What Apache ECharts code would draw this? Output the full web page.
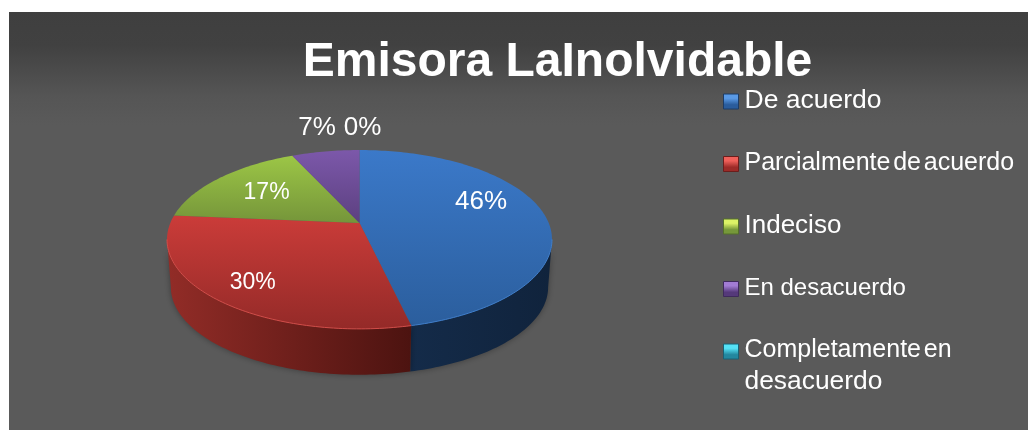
<!DOCTYPE html>
<html><head><meta charset="utf-8">
<style>html,body{margin:0;padding:0;background:#fff}#c{width:1028px;height:430px}</style>
<script src="https://cdn.jsdelivr.net/npm/echarts@6/dist/echarts.min.js"></script>
</head><body><div id="c"></div>
<script>
const titleText = 'Emisora LaInolvidable';
const categories = ['De acuerdo','Parcialmente de acuerdo','Indeciso','En desacuerdo','Completamente en desacuerdo'];
const values = [46.4, 30, 16.8, 6.8, 0];
const topColors = [['#3b79c9','#2b5e9d'],['#cb3c39','#942a28'],['#9cc646','#75953a'],['#7c58aa','#5c4080'],['#3fb4cf','#2a8aa3']];
const sideColors = [['#142b49','#10233c'],['#922c27','#4c1310'],['#5d7a2a','#4c6322'],['#4a3266','#3b2852'],['#1f6f84','#1a5c6e']];
const rimColors = ['#3f7ecb','#d24c48','#a6cc55','#8a66b8','#4cc0da'];
const legendColors = [['#5a9ae6','#2a5c9c'],['#f0605a','#9c2b28'],['#dcf266','#76983a'],['#a27cd4','#55397a'],['#55e2f6','#23879f']];
const legendBorders = ['#1d3c66','#6b1e1c','#55702a','#3f2a5c','#1a6074'];
const labelNudges = [[1,-15],[-18,13],[1,0],[-19,-46],[3,-45]];
const labelSizes = [26,23,23,26,26];

// perspective disc
const cx = 359.5, cy = 223, Rx = 189.2, Ry = 86.4, persp = 0.184, depth = 48, lowScale = 0.98;
const total = values.reduce((a,b)=>a+b,0);
const startFrac = i => values.slice(0,i).reduce((a,b)=>a+b,0)/total;
function project(theta, r, low){
  const u = Math.sin(theta)*r, v = Math.cos(theta)*r, w = 1 + persp*v, s = low ? lowScale : 1;
  return [cx + Rx*u/w*s, cy - Ry*v/w*s + (low ? depth : 0)];
}
function arc(a, b, low){
  const n = Math.max(2, Math.ceil(Math.abs(b-a)/0.02)), p = [];
  for (let i=0;i<=n;i++) p.push(project(a+(b-a)*i/n, 1, low));
  return p;
}
const lg = (x2,y2,c) => new echarts.graphic.LinearGradient(0,0,x2,y2,[{offset:0,color:c[0]},{offset:1,color:c[1]}]);
const bevel = c => new echarts.graphic.LinearGradient(0,0,0,1,[{offset:0,color:c[0]},{offset:0.3,color:c[0]},{offset:0.7,color:c[1]},{offset:1,color:c[1]}]);
const frontLo = Math.acos(-persp), frontHi = 2*Math.PI - frontLo;

function renderSlice(i){
  return function(params, api){
    const val = api.value(0);
    const a = startFrac(i)*2*Math.PI, b = a + val/total*2*Math.PI;
    const children = [];
    const lo = Math.max(a, frontLo), hi = Math.min(b, frontHi);
    if (val > 0 && hi > lo) {
      const side = arc(lo,hi,false).concat(arc(lo,hi,true).reverse());
      children.push({type:'polygon', shape:{points:side}, style:{fill:lg(1,0,sideColors[i]), shadowBlur:6, shadowColor:'rgba(0,0,0,0.35)'}});
    }
    if (val > 0) {
      const top = [project(0,0,false)].concat(arc(a,b,false));
      children.push({type:'polygon', shape:{points:top}, style:{fill:lg(0,1,topColors[i])}});
      if (hi > lo) children.push({type:'polyline', shape:{points:arc(lo,hi,false)}, style:{fill:null, stroke:rimColors[i], lineWidth:1}});
    }
    const mid = (a+b)/2, p = project(mid,0.65,false);
    children.push({type:'text', z2:10, style:{
      text: Math.round(val)+'%', x:p[0]+labelNudges[i][0], y:p[1]+labelNudges[i][1],
      fill:'#fff', font:labelSizes[i]+'px "Liberation Sans", Arial, sans-serif', align:'center', verticalAlign:'middle'}});
    return {type:'group', children};
  };
}

const chart = echarts.init(document.getElementById('c'), null, {renderer:'canvas'});
chart.setOption({
  animation:false,
  backgroundColor:'#ffffff',
  title:{text:titleText, left:552.5, top:34, textAlign:'center',
    textStyle:{color:'#fff', fontSize:48, fontWeight:'bold', fontFamily:'"Liberation Sans", Arial, sans-serif'}},
  graphic:[{type:'rect', z:-10, shape:{x:9,y:12,width:1019,height:418},
    style:{fill:new echarts.graphic.LinearGradient(0,0,0,1,[{offset:0,color:'#3f3f3f'},{offset:0.08,color:'#414141'},{offset:0.2,color:'#555555'},{offset:0.27,color:'#5a5a5a'},{offset:1,color:'#5a5a5a'}])}}],
  legend:{
    orient:'vertical', left:723, top:54, height:700, padding:0, icon:'rect', itemWidth:15, itemHeight:15, itemGap:-32.5, selectedMode:false,
    data:categories.map((n,i)=>({name:n, icon:'rect',
      itemStyle:{color:bevel(legendColors[i]), borderColor:legendBorders[i], borderWidth:1}})),
    textStyle:{color:'#fff', fontSize:25, lineHeight:31, padding:[0,0,2,1], fontFamily:'"Liberation Sans", Arial, sans-serif',
      rich:{
        s:{fontSize:10, lineHeight:31, color:'#fff'},
        a:{fontSize:26.5, lineHeight:31, color:'#fff'},
        b:{fontSize:26, lineHeight:31, color:'#fff'},
        c:{fontSize:24, lineHeight:31, color:'#fff'},
        d:{fontSize:26.4, lineHeight:31, color:'#fff'},
        e:{fontSize:25, lineHeight:31, color:'#fff'}
      }},
    formatter:n => n==='De acuerdo' ? '{e| }\n{a|De acuerdo}\n{e| }'
      : n==='Parcialmente de acuerdo' ? '{e| }\nParcialmente{s| }de{s| }acuerdo\n{e| }'
      : n==='Indeciso' ? '{e| }\n{b|Indeciso}\n{e| }'
      : n==='En desacuerdo' ? '{e| }\n{c|En desacuerdo}\n{e| }'
      : '{e| }\nCompletamente{s| }en\n{d|desacuerdo}'
  },
  series:categories.map((n,i)=>({
    type:'custom', name:n, coordinateSystem:'none', silent:true,
    data:[[values[i]]], renderItem:renderSlice(i),
    itemStyle:{color:topColors[i][0]}
  }))
});
</script></body></html>
